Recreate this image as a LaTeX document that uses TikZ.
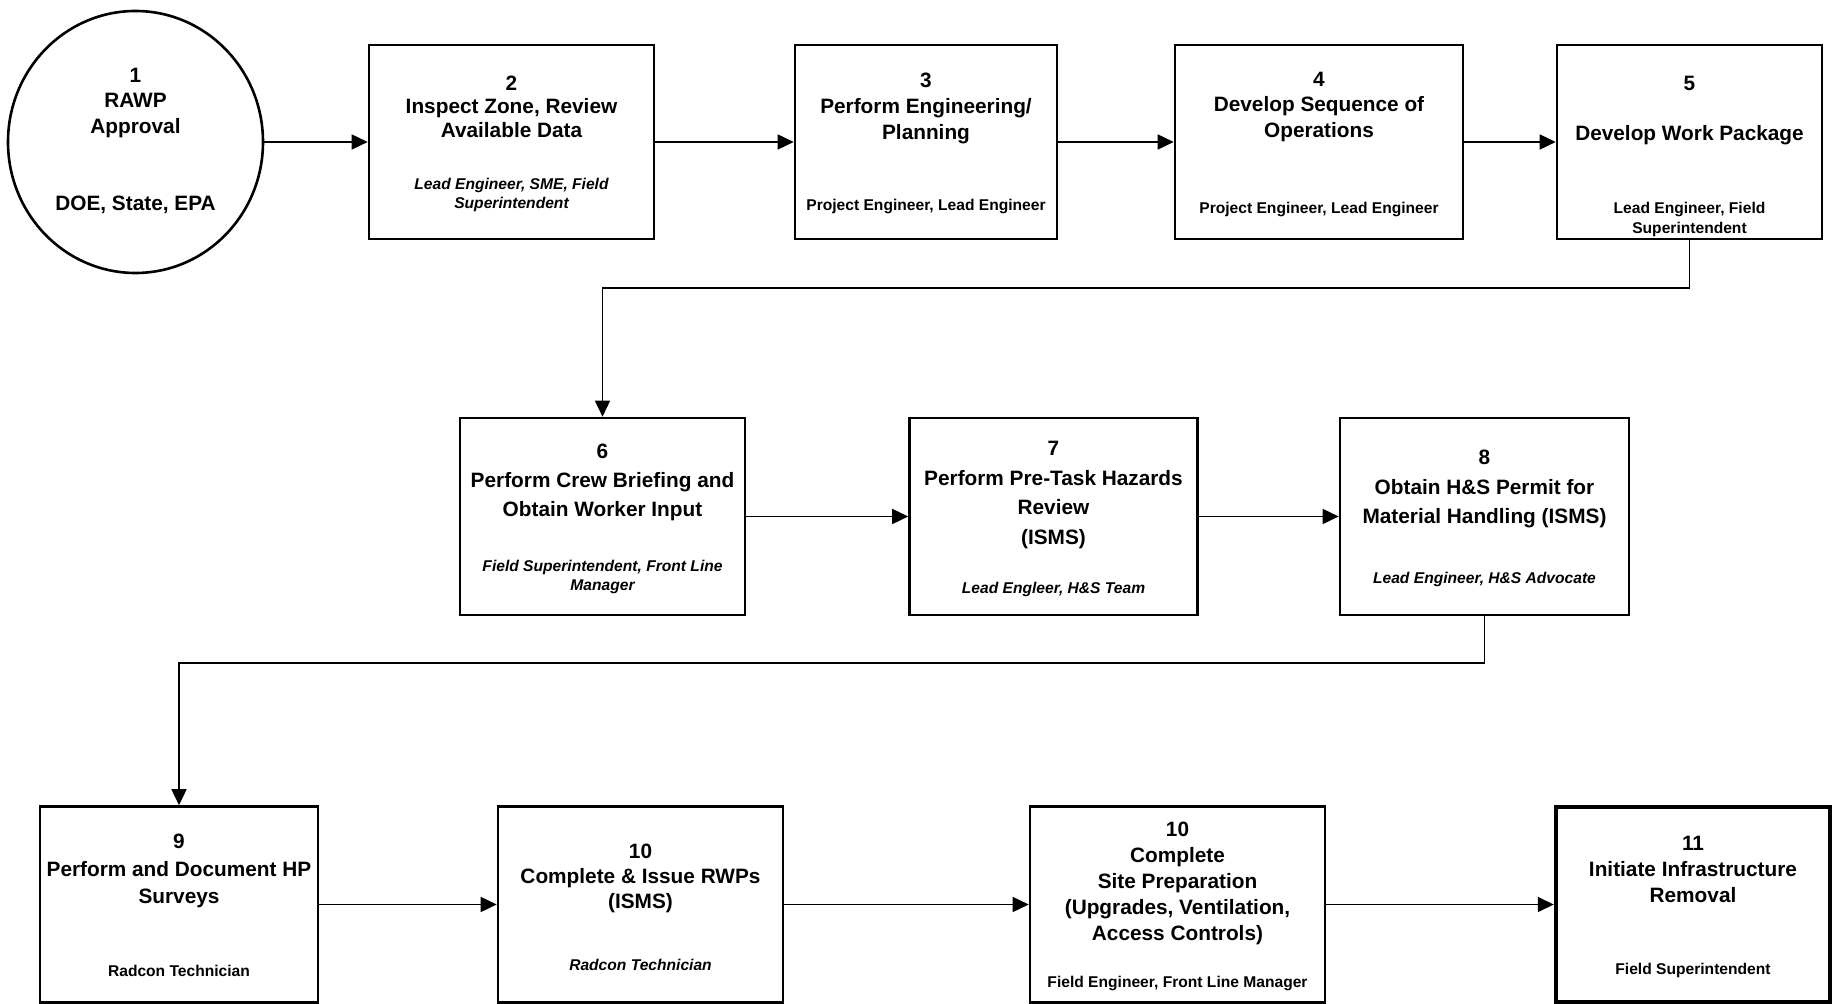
\documentclass[tikz,border=0pt]{standalone}
\usepackage{fontspec}
\setmainfont{Liberation Sans}
\usetikzlibrary{arrows.meta,shapes.geometric}
\tikzset{
  stepbox/.style={draw, line width=1.3pt, rectangle, inner sep=0pt},
  ttl/.style={font=\bfseries\fontsize{10.4}{#1}\selectfont, align=center, inner sep=0pt},
  ttl/.default=12,
  sub/.style={font=\bfseries\fontsize{7.8}{#1}\selectfont, align=center, inner sep=0pt},
  sub/.default=9.6,
  subit/.style={font=\bfseries\itshape\fontsize{7.8}{#1}\selectfont, align=center, inner sep=0pt},
  subit/.default=9.6,
  arr/.style={line width=0.8pt, -{Triangle[length=8pt,width=7.5pt]}},
}
\begin{document}
\begin{tikzpicture}[x=0.5pt,y=-0.5pt]
\useasboundingbox (0,0) rectangle (1833,1004);
% ---------- top row ----------
\node[draw, ellipse, line width=1.3pt, minimum width=127.5pt, minimum height=131pt, inner sep=0pt] (b1) at (135.5,142) {};
\node[ttl=12.75] (t1) at (135.5,103) {1\\RAWP\\Approval};
\node[ttl] (s1) at (135.5,205) {DOE, State, EPA};

\node[stepbox, minimum width=142.5pt, minimum height=97pt] (b2) at (511.5,142) {};
\node[ttl=11.75] (t2) at (511.5,106.5) {2\\Inspect Zone, Review\\Available Data};
\node[subit=9.5] (s2) at (511.5,194.5) {Lead Engineer, SME, Field\\Superintendent};

\node[stepbox, minimum width=131pt, minimum height=97pt] (b3) at (926,142) {};
\node[ttl=13] (t3) at (926,108) {3\\Perform Engineering/\\Planning};
\node[sub] (s3) at (926,207) {Project Engineer, Lead Engineer};

\node[stepbox, minimum width=144pt, minimum height=97pt] (b4) at (1319,142) {};
\node[ttl=12.75] (t4) at (1319,107) {4\\Develop Sequence of\\Operations};
\node[sub] (s4) at (1319,210) {Project Engineer, Lead Engineer};

\node[stepbox, minimum width=132.5pt, minimum height=97pt] (b5) at (1689.5,142) {};
\node[ttl] (n5) at (1689.5,83) {5};
\node[ttl] (t5) at (1689.5,135) {Develop Work Package};
\node[sub=10] (s5) at (1689.5,219) {Lead Engineer, Field\\Superintendent};

% ---------- middle row ----------
\node[stepbox, minimum width=142.5pt, minimum height=98.5pt] (b6) at (602.5,516.5) {};
\node[ttl=14.5] (t6) at (602.5,482) {6\\Perform Crew Briefing and\\Obtain Worker Input};
\node[subit] (s6) at (602.5,577) {Field Superintendent, Front Line\\Manager};

\node[stepbox, minimum width=144pt, minimum height=98.5pt] (b7) at (1053.5,516.5) {};
\node[ttl=14.7] (t7) at (1053.5,495) {7\\Perform Pre-Task Hazards\\Review\\(ISMS)};
\node[subit] (s7) at (1053.5,589) {Lead Engleer, H\&S Team};

\node[stepbox, minimum width=144.5pt, minimum height=98.5pt] (b8) at (1484.5,516.5) {};
\node[ttl=14.7] (t8) at (1484.5,489) {8\\Obtain H\&S Permit for\\Material Handling (ISMS)};
\node[subit] (s8) at (1484.5,579) {Lead Engineer, H\&S Advocate};

% ---------- bottom row ----------
\node[stepbox, minimum width=139pt, minimum height=98pt] (b9) at (179,904.5) {};
\node[ttl=13.7] (t9) at (179,871) {9\\Perform and Document HP\\Surveys};
\node[sub] (s9) at (179,971) {Radcon Technician};

\node[stepbox, minimum width=142.5pt, minimum height=98pt] (b10) at (640.5,904.5) {};
\node[ttl=12.5] (t10) at (640.5,878) {10\\Complete \& Issue RWPs\\(ISMS)};
\node[subit] (s10) at (640.5,965) {Radcon Technician};

\node[stepbox, minimum width=147.5pt, minimum height=98pt] (b10b) at (1177.5,904.5) {};
\node[ttl=13] (t10b) at (1177.5,883) {10\\Complete\\Site Preparation\\(Upgrades, Ventilation,\\Access Controls)};
\node[sub] (s10b) at (1177.5,984) {Field Engineer, Front Line Manager};

\node[stepbox, line width=2.2pt, minimum width=137pt, minimum height=97.5pt] (b11) at (1693,904.5) {};
\node[ttl=13] (t11) at (1693,869) {11\\Initiate Infrastructure\\Removal};
\node[sub] (s11) at (1693,970) {Field Superintendent};

% ---------- connectors ----------
\draw[arr] (b1.east) -- (b2.west);
\draw[arr] (b2.east) -- (b3.west);
\draw[arr] (b3.east) -- (b4.west);
\draw[arr] (b4.east) -- (b5.west);
\coordinate (k1) at (602.5,288);
\draw[arr] (b5.south) |- (k1) -- (b6.north);
\draw[arr] (b6.east) -- (b7.west);
\draw[arr] (b7.east) -- (b8.west);
\coordinate (k2) at (179,663);
\draw[arr] (b8.south) |- (k2) -- (b9.north);
\draw[arr] (b9.east) -- (b10.west);
\draw[arr] (b10.east) -- (b10b.west);
\draw[arr] (b10b.east) -- (b11.west);
\end{tikzpicture}
\end{document}
